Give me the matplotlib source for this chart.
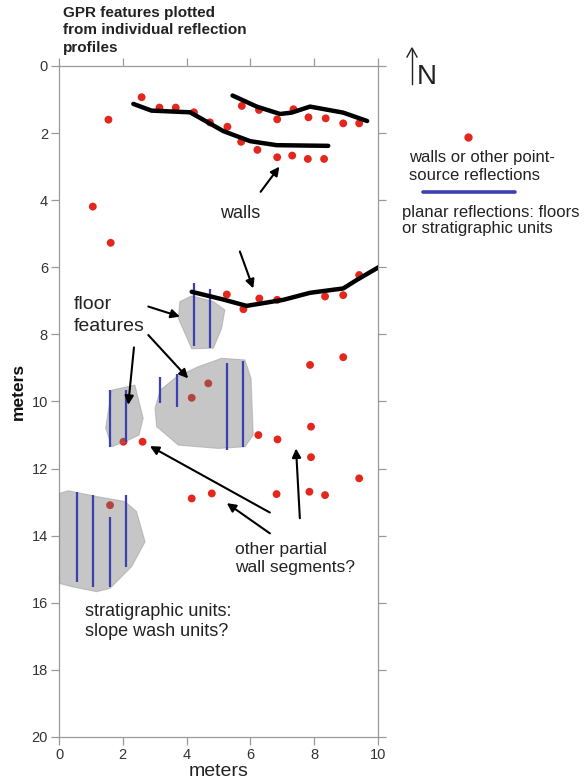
import matplotlib
matplotlib.use("Agg")
import matplotlib.pyplot as plt
from matplotlib.patches import Polygon
from matplotlib.lines import Line2D

plt.rcParams['font.family'] = ['Liberation Sans', 'DejaVu Sans']

# Point-source reflections (x, y in meters; y measured southward)
point_x = [1.55, 2.59, 3.15, 3.66, 4.23, 4.73, 5.28, 5.71, 6.22, 6.84, 7.31, 7.80, 8.31,
           5.73, 6.27, 6.84, 7.35, 7.82, 8.36, 8.91, 9.41,
           1.06, 1.62,
           9.41, 5.26, 6.28, 5.78, 6.84, 8.34, 8.91,
           7.87, 8.91, 4.68, 4.16,
           7.90, 6.25, 6.85, 2.02, 2.62,
           7.90, 9.41, 4.16, 4.79, 6.82, 7.85, 8.34, 1.60]
point_y = [1.60, 0.93, 1.24, 1.24, 1.38, 1.68, 1.81, 2.26, 2.50, 2.72, 2.67, 2.77, 2.77,
           1.19, 1.31, 1.59, 1.29, 1.53, 1.56, 1.71, 1.71,
           4.19, 5.27,
           6.23, 6.81, 6.93, 7.25, 6.97, 6.87, 6.83,
           8.91, 8.68, 9.46, 9.89,
           10.75, 11.00, 11.13, 11.20, 11.20,
           11.66, 12.29, 12.89, 12.74, 12.76, 12.69, 12.79, 13.09]

# Interpreted wall alignments
wall1_x = [2.33, 2.90, 4.11, 4.63, 5.15, 5.99, 6.82, 8.44]
wall1_y = [1.13, 1.33, 1.38, 1.66, 1.94, 2.24, 2.36, 2.38]
wall2_x = [5.44, 6.20, 6.93, 7.29, 7.87, 8.91, 9.66]
wall2_y = [0.88, 1.21, 1.43, 1.39, 1.21, 1.39, 1.64]
wall3_x = [4.16, 5.15, 5.88, 7.03, 7.87, 8.91, 9.33, 9.96, 10.2]
wall3_y = [6.73, 6.96, 7.15, 6.97, 6.76, 6.63, 6.38, 6.03, 5.9]

# Shaded feature outlines
floor_a_x = [3.79, 4.16, 4.84, 5.20, 5.10, 4.84, 4.16, 3.74]
floor_a_y = [7.02, 6.85, 7.02, 7.27, 7.82, 8.41, 8.43, 7.52]
floor_b_x = [3.17, 3.69, 4.37, 5.10, 5.83, 6.02, 6.09, 5.83, 4.99, 3.74, 3.06, 3.01]
floor_b_y = [9.66, 9.26, 8.96, 8.71, 8.76, 9.31, 11.00, 11.35, 11.40, 11.30, 10.75, 10.20]
floor_c_x = [1.65, 2.38, 2.64, 2.51, 2.07, 1.65, 1.50, 1.46]
floor_c_y = [9.66, 9.51, 10.50, 11.00, 11.20, 11.35, 10.90, 10.80]
slope_x = [0.0, 0.29, 1.23, 2.07, 2.43, 2.70, 2.28, 1.60, 1.18, 0.40, 0.0]
slope_y = [12.74, 12.66, 12.84, 12.98, 13.28, 14.18, 14.92, 15.57, 15.67, 15.52, 15.42]

# Planar reflections: x position, top and bottom of each trace
planar_x = [4.24, 4.73, 3.17, 3.69, 5.26, 5.78, 1.60, 2.09, 0.55, 1.08, 1.60, 2.10]
planar_top = [6.48, 6.65, 9.26, 9.19, 8.86, 8.79, 9.66, 9.66, 12.69, 12.79, 13.43, 12.79]
planar_bot = [8.34, 8.42, 10.03, 10.15, 11.45, 11.35, 11.35, 11.20, 15.37, 15.52, 15.52, 14.92]

RED = '#e3271d'
BLUE = '#3b3fb2'
GRAY_TXT = '#333333'
INK = '#222222'

fig = plt.figure(figsize=(5.85, 7.82), dpi=100)
ax = fig.add_axes([59 / 585, 1 - 737 / 782, 319 / 585, 671 / 782])

ax.scatter(point_x, point_y, s=32, color=RED, edgecolors='none', zorder=2)

for px, py in [(floor_a_x, floor_a_y), (floor_b_x, floor_b_y),
               (floor_c_x, floor_c_y), (slope_x, slope_y)]:
    ax.add_patch(Polygon(list(zip(px, py)), closed=True, facecolor='#727272',
                         alpha=0.4, edgecolor='#8a8a8a', lw=0.8, zorder=3))

ax.vlines(planar_x, planar_top, planar_bot, color=BLUE, lw=1.6, zorder=4)

for wx, wy in [(wall1_x, wall1_y), (wall2_x, wall2_y), (wall3_x, wall3_y)]:
    ax.plot(wx, wy, color='black', lw=3.2, solid_capstyle='round',
            solid_joinstyle='round', zorder=5)

ax.set_xlim(0, 10)
ax.set_ylim(20, 0)
ax.set_xticks(range(0, 11, 2))
ax.set_yticks(range(0, 21, 2))
ax.tick_params(direction='out', length=6, width=0.9, color='#9a9a9a',
               labelsize=10.5, labelcolor=GRAY_TXT, top=True, right=True,
               labeltop=False, labelright=False, pad=2)
for sp in ax.spines.values():
    sp.set_color('#9a9a9a')
    sp.set_linewidth(0.9)

ax.set_xlabel('meters', fontsize=14, color=INK)
ax.xaxis.set_label_coords(0.5, -0.039)
ax.set_ylabel('meters', fontsize=12.5, fontweight='bold', color='#111111')
ax.yaxis.set_label_coords(-0.105, 0.515)

# Annotations
ax.text(5.67, 4.41, 'walls', fontsize=13, ha='center', va='center', color=INK)
ax.text(0.45, 6.86, 'floor\nfeatures', fontsize=14, ha='left', va='top',
        linespacing=1.35, color=INK)
ax.text(5.52, 14.18, 'other partial\nwall segments?', fontsize=12.5, ha='left',
        va='top', linespacing=1.3, color=INK)
ax.text(0.82, 16.02, 'stratigraphic units:\nslope wash units?', fontsize=13, ha='left',
        va='top', linespacing=1.2, color=INK)

arrows = [((6.32, 3.75), (6.91, 3.00)),
          ((5.67, 5.53), (6.09, 6.63)),
          ((2.80, 7.17), (3.79, 7.47)),
          ((2.80, 8.02), (4.05, 9.31)),
          ((2.35, 8.39), (2.17, 10.10)),
          ((6.61, 13.31), (2.85, 11.33)),
          ((6.61, 13.93), (5.26, 13.03)),
          ((7.55, 13.48), (7.43, 11.40))]
for tail, head in arrows:
    ax.annotate('', xy=head, xytext=tail,
                arrowprops=dict(arrowstyle='-|>', color='black', lw=1.5,
                                mutation_scale=13, shrinkA=0, shrinkB=0),
                zorder=6)

# Title
fig.text(63 / 585, 1 - 6 / 782, 'GPR features plotted\nfrom individual reflection\nprofiles',
         fontsize=11, fontweight='bold', ha='left', va='top', linespacing=1.3,
         color=INK)

# North arrow
fig.add_artist(Line2D([412 / 585, 412 / 585], [1 - 84 / 782, 1 - 50 / 782],
                      color=INK, lw=1.0))
fig.add_artist(Line2D([407 / 585, 412 / 585, 417 / 585],
                      [1 - 57 / 782, 1 - 48 / 782, 1 - 57 / 782],
                      color=INK, lw=1.0))
fig.text(417 / 585, 1 - 84 / 782, 'N', fontsize=20, ha='left', va='baseline',
         color=INK, fontweight='light')

# Key
fig.add_artist(Line2D([468 / 585], [1 - 137 / 782], marker='o', markersize=6,
                      color=RED, markeredgecolor='none', linestyle='none'))
fig.text(409 / 585, 1 - 150 / 782, 'walls or other point-\nsource reflections',
         fontsize=12, ha='left', va='top', linespacing=1.25, color=INK)
fig.add_artist(Line2D([423 / 585, 515 / 585], [1 - 192 / 782, 1 - 192 / 782],
                      color=BLUE, lw=2.6, solid_capstyle='round'))
fig.text(402 / 585, 1 - 205 / 782, 'planar reflections: floors\nor stratigraphic units',
         fontsize=12, ha='left', va='top', linespacing=1.1, color=INK)

fig.savefig('out.png', dpi=100)
